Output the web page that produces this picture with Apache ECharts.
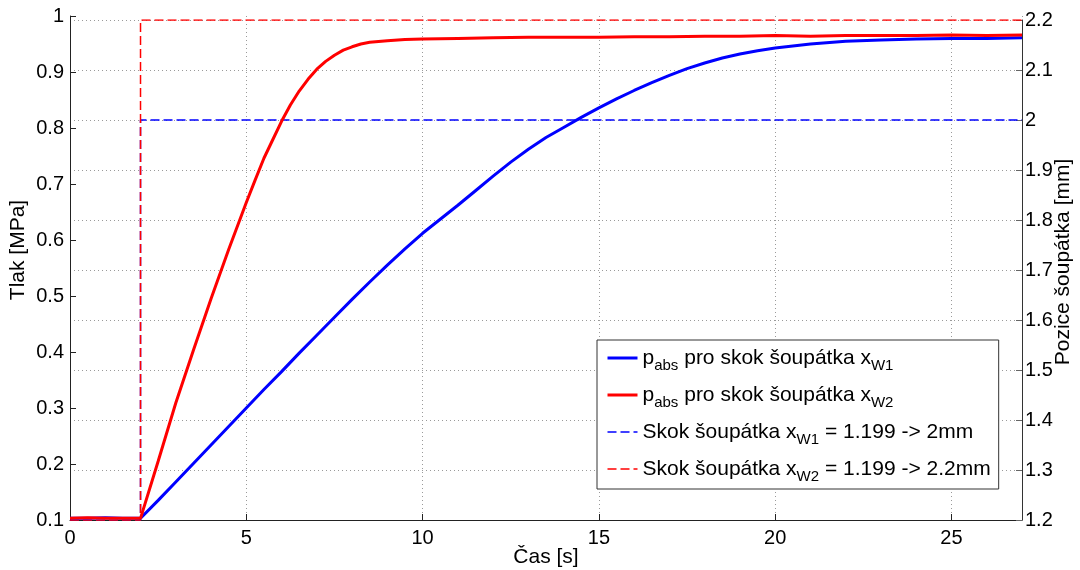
<!DOCTYPE html>
<html>
<head>
<meta charset="utf-8">
<script src="https://cdn.jsdelivr.net/npm/echarts@6/dist/echarts.min.js"></script>
<style>
  html, body { margin: 0; padding: 0; background: #fff; }
  #chart { width: 1080px; height: 570px; }
</style>
</head>
<body>
<div id="chart"></div>
<script>
// Time base [s] for the x_W1 pressure record
const timeW1 = [0, 0.5, 1, 1.5, 2, 2.5, 3, 3.5, 4, 4.5, 5, 5.5, 6, 6.5, 7, 7.5, 8, 8.5, 9, 9.5,
  10, 10.5, 11, 11.5, 12, 12.5, 13, 13.5, 14, 14.5, 15, 15.5, 16, 16.5, 17, 17.5, 18, 18.5, 19, 19.5,
  20, 21, 22, 23, 24, 25, 26, 27];

// Absolute pressure [MPa] for spool step x_W1 (1.199 -> 2 mm)
const pAbsW1 = [0.103, 0.103, 0.104, 0.103, 0.103, 0.135, 0.168, 0.201, 0.234, 0.267, 0.300, 0.333, 0.365, 0.398, 0.430, 0.462, 0.494, 0.525, 0.555, 0.584,
  0.612, 0.637, 0.662, 0.688, 0.714, 0.739, 0.762, 0.783, 0.801, 0.819, 0.836, 0.852, 0.867, 0.881, 0.894, 0.906, 0.916, 0.925, 0.932, 0.938,
  0.943, 0.950, 0.955, 0.957, 0.959, 0.960, 0.960, 0.961];

// Time base [s] for the x_W2 pressure record (denser around the knee)
const timeW2 = [0, 0.5, 1, 1.5, 2, 2.5, 3, 3.5, 4, 4.5, 5, 5.25, 5.5, 5.75, 6, 6.25, 6.5, 6.75, 7, 7.25,
  7.5, 7.75, 8, 8.25, 8.5, 9, 9.5, 10, 11, 12, 13, 14, 15, 16, 17, 18, 19, 20,
  21, 22, 23, 24, 25, 26, 27];

// Absolute pressure [MPa] for spool step x_W2 (1.199 -> 2.2 mm)
const pAbsW2 = [0.103, 0.104, 0.103, 0.103, 0.103, 0.205, 0.309, 0.403, 0.495, 0.583, 0.667, 0.707, 0.746, 0.779, 0.812, 0.841, 0.866, 0.887, 0.905, 0.919,
  0.930, 0.939, 0.945, 0.950, 0.953, 0.956, 0.958, 0.959, 0.960, 0.961, 0.962, 0.962, 0.962, 0.963, 0.963, 0.964, 0.964, 0.965,
  0.964, 0.965, 0.965, 0.965, 0.966, 0.965, 0.966];

// Spool position steps [mm]
const stepTime = [0, 2, 27];
const spoolW1 = [1.199, 2.0, 2.0];
const spoolW2 = [1.199, 2.2, 2.2];

// Axis ranges and ticks
const timeAxis = { min: 0, max: 27, interval: 5 };
const pressureAxis = { min: 0.1, max: 1, interval: 0.1 };
const spoolAxis = { min: 1.2, max: 2.2, interval: 0.1 };

// Axis titles
const titleTime = 'Čas [s]';
const titlePressure = 'Tlak [MPa]';
const titleSpool = 'Pozice šoupátka [mm]';

const names = ['pW1', 'pW2', 'xW1', 'xW2'];
const legendText = {
  pW1: '{n|p}{s|abs}{n| pro skok šoupátka x}{s|W1}',
  pW2: '{n|p}{s|abs}{n| pro skok šoupátka x}{s|W2}',
  xW1: '{n|Skok šoupátka x}{s|W1}{n| = 1.199 -> 2mm}',
  xW2: '{n|Skok šoupátka x}{s|W2}{n| = 1.199 -> 2.2mm}'
};

const zip = (xs, ys) => xs.map((x, i) => [x, ys[i]]);

const FONT = 'Liberation Sans, Arial, sans-serif';
const BLUE = '#0000ff';
const RED = '#ff0000';
const gridDots = { show: true, lineStyle: { color: '#9a9a9a', width: 1, type: [1, 3] } };
const titleStyle = (text) => ({ text, fill: '#000', font: '21px ' + FONT, align: 'center', verticalAlign: 'middle' });

const chart = echarts.init(document.getElementById('chart'), null, { renderer: 'canvas' });

chart.setOption({
  animation: false,
  backgroundColor: '#ffffff',
  textStyle: { fontFamily: FONT },
  grid: [
    { left: 70, right: 58, top: 16, bottom: 50, containLabel: false, outerBoundsMode: 'none' },
    { left: 70, right: 58, top: 20, bottom: 50, containLabel: false, outerBoundsMode: 'none' }
  ],
  graphic: [
    { type: 'text', x: 546, y: 557, silent: true, style: titleStyle(titleTime) },
    { type: 'text', x: 18, y: 250, rotation: Math.PI / 2, silent: true, style: titleStyle(titlePressure) },
    { type: 'text', x: 1063, y: 262, rotation: Math.PI / 2, silent: true, style: titleStyle(titleSpool) }
  ],
  xAxis: [
    {
      type: 'value', gridIndex: 0,
      min: timeAxis.min, max: timeAxis.max, interval: timeAxis.interval,
      axisLine: { show: true, onZero: false, lineStyle: { color: '#222', width: 1 } },
      axisTick: { show: true, inside: true, length: 6, lineStyle: { color: '#222' } },
      axisLabel: { fontSize: 20, color: '#000', margin: 8, showMaxLabel: false, fontFamily: FONT },
      splitLine: gridDots
    },
    {
      type: 'value', gridIndex: 1, show: false,
      min: timeAxis.min, max: timeAxis.max, interval: timeAxis.interval,
      splitLine: { show: false }
    }
  ],
  yAxis: [
    {
      type: 'value', gridIndex: 0, position: 'left',
      min: pressureAxis.min, max: pressureAxis.max, interval: pressureAxis.interval,
      axisLine: { show: true, onZero: false, lineStyle: { color: '#222', width: 1 } },
      axisTick: { show: true, inside: true, length: 6, lineStyle: { color: '#222' } },
      axisLabel: { fontSize: 20, color: '#000', margin: 6, fontFamily: FONT },
      splitLine: { show: false }
    },
    {
      type: 'value', gridIndex: 1, position: 'right',
      min: spoolAxis.min, max: spoolAxis.max, interval: spoolAxis.interval,
      axisLine: { show: true, onZero: false, lineStyle: { color: '#333', width: 1 } },
      axisTick: { show: true, inside: true, length: 6, lineStyle: { color: '#666' } },
      axisLabel: { fontSize: 20, color: '#000', margin: 3, fontFamily: FONT },
      splitLine: gridDots
    }
  ],
  legend: {
    orient: 'vertical',
    left: 597, top: 340,
    padding: [3, 8, 5, 9],
    itemGap: 7,
    itemWidth: 30, itemHeight: 14,
    backgroundColor: '#ffffff',
    borderColor: '#333333', borderWidth: 1, borderRadius: 0,
    selectedMode: false,
    itemStyle: { opacity: 0 },
    data: [
      { name: names[0], lineStyle: { width: 3 } },
      { name: names[1], lineStyle: { width: 3 } },
      { name: names[2], lineStyle: { width: 1.5 } },
      { name: names[3], lineStyle: { width: 1.5 } }
    ],
    formatter: (name) => legendText[name],
    textStyle: {
      fontFamily: FONT, fontSize: 21, color: '#000', lineHeight: 30,
      rich: {
        n: { fontFamily: FONT, fontSize: 21, color: '#000', lineHeight: 30 },
        s: { fontFamily: FONT, fontSize: 15, color: '#000', lineHeight: 15, verticalAlign: 'bottom' }
      }
    }
  },
  series: [
    {
      name: 'xW1', type: 'line', xAxisIndex: 1, yAxisIndex: 1, z: 2,
      data: zip(stepTime, spoolW1), step: 'end', symbol: 'none',
      lineStyle: { color: BLUE, width: 1.5, type: [9, 4] }, itemStyle: { color: BLUE }
    },
    {
      name: 'xW2', type: 'line', xAxisIndex: 1, yAxisIndex: 1, z: 2,
      data: zip(stepTime, spoolW2), step: 'end', symbol: 'none',
      lineStyle: { color: RED, width: 1.5, type: [9, 4] }, itemStyle: { color: RED }
    },
    {
      name: 'pW1', type: 'line', xAxisIndex: 0, yAxisIndex: 0, z: 3,
      data: zip(timeW1, pAbsW1), symbol: 'none', smooth: false,
      lineStyle: { color: BLUE, width: 3 }, itemStyle: { color: BLUE }
    },
    {
      name: 'pW2', type: 'line', xAxisIndex: 0, yAxisIndex: 0, z: 3,
      data: zip(timeW2, pAbsW2), symbol: 'none', smooth: false,
      lineStyle: { color: RED, width: 3 }, itemStyle: { color: RED }
    }
  ]
});
</script>
</body>
</html>
